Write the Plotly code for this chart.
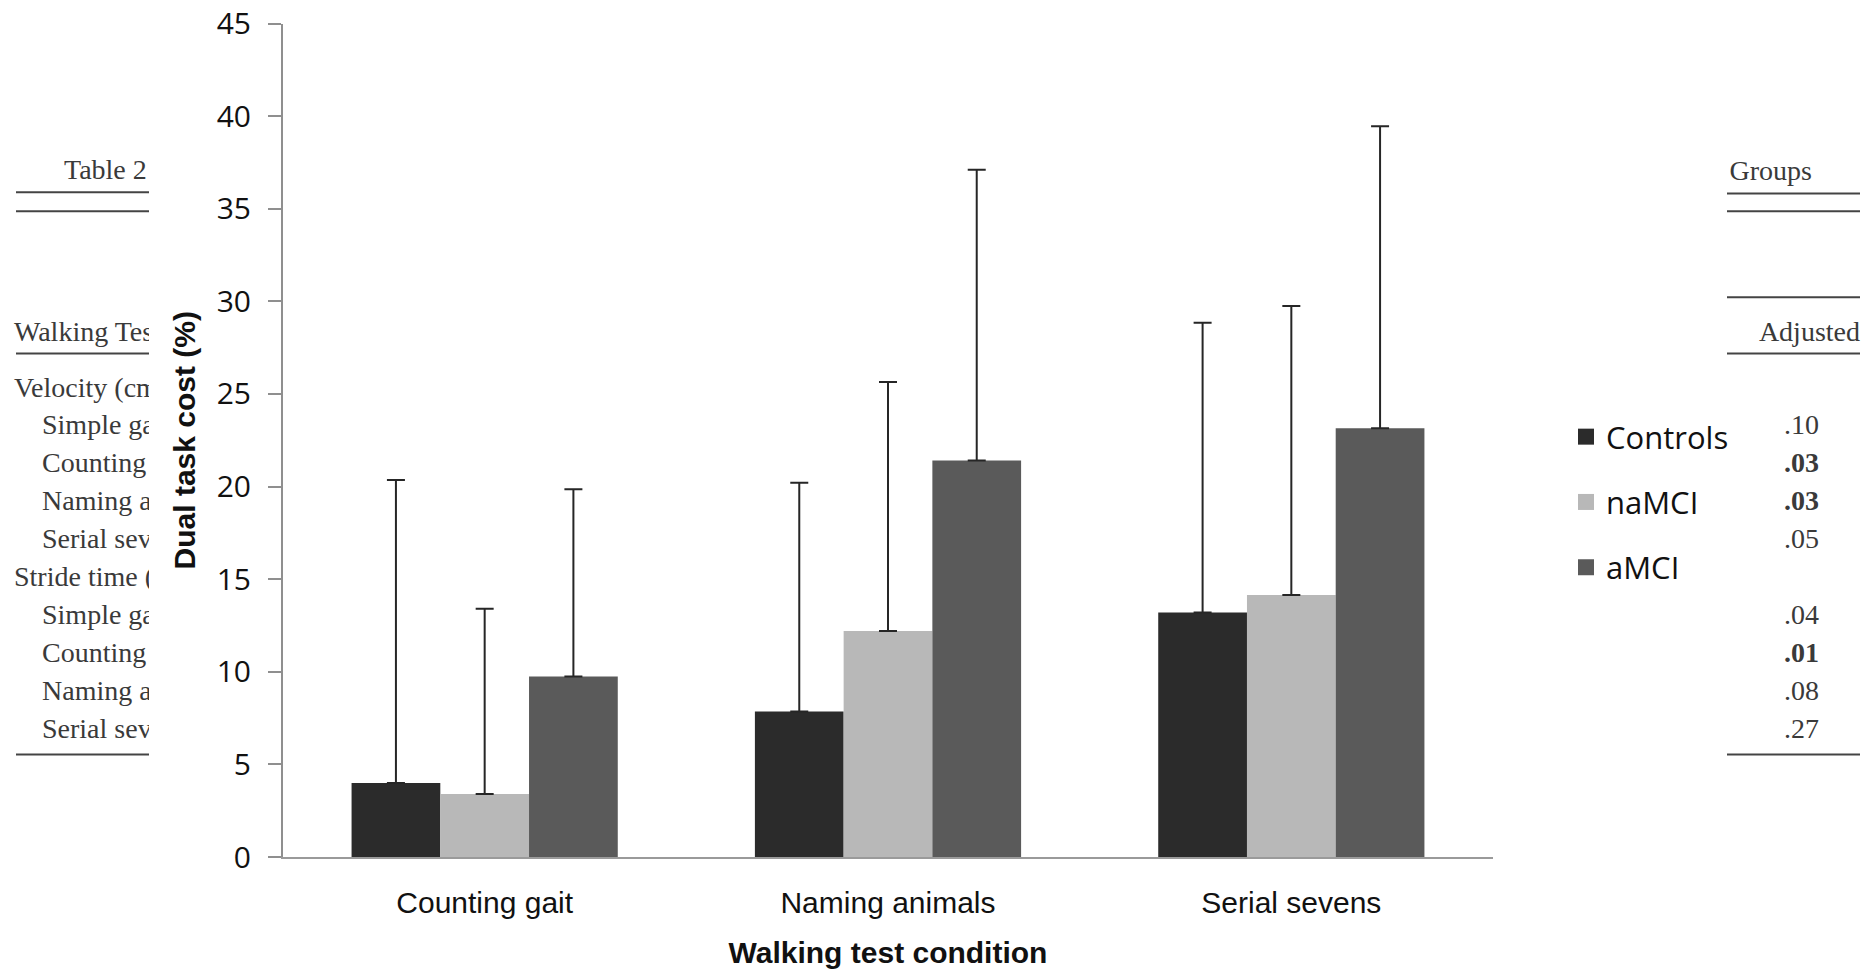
import plotly.graph_objects as go

W, H = 1872, 971

# ---- bar chart data: dual task cost (%) by walking condition ----
conditions = ["Counting gait", "Naming animals", "Serial sevens"]
groups = ["Controls", "naMCI", "aMCI"]
group_colors = ["#2b2b2b", "#b8b8b8", "#5a5a5a"]

controls_mean = [4.0, 7.85, 13.2]
namci_mean = [3.4, 12.2, 14.15]
amci_mean = [9.75, 21.4, 23.15]

controls_sd = [16.35, 12.35, 15.65]
namci_sd = [10.0, 13.45, 15.6]
amci_sd = [10.1, 15.7, 16.3]

y_ticks = [0, 5, 10, 15, 20, 25, 30, 35, 40, 45]

# ---- strips of the printed table that show at either side of the chart ----
table_title = "Table 2"
table_title_right = "Groups"
table_header_left = "Walking Tes"
table_header_right = "Adjusted"
table_rows = ["Velocity (cm", "Simple ga", "Counting", "Naming a", "Serial sev",
              "Stride time (", "Simple ga", "Counting", "Naming a", "Serial sev"]
row_indented = [False, True, True, True, True, False, True, True, True, True]
adjusted_p = ["", ".10", ".03", ".03", ".05", "", ".04", ".01", ".08", ".27"]
p_bold = [False, False, True, True, False, False, False, True, False, False]

means = [controls_mean, namci_mean, amci_mean]
sds = [controls_sd, namci_sd, amci_sd]

fig = go.Figure()

for name, color, m, s in zip(groups, group_colors, means, sds):
    fig.add_trace(go.Bar(
        x=conditions, y=m, name=name, showlegend=False,
        marker=dict(color=color, line=dict(width=0)),
        error_y=dict(type="data", symmetric=False, array=s,
                     arrayminus=[0] * len(s), color="#262626",
                     thickness=2, width=9),
        xaxis="x", yaxis="y",
    ))

# legend entries with larger square swatches
for name, color in zip(groups, group_colors):
    fig.add_trace(go.Scatter(
        x=[None], y=[None], mode="markers", name=name, legendgroup=name,
        marker=dict(symbol="square", size=20, color=color),
        xaxis="x", yaxis="y",
    ))

# ---- table layer (clipped at the panel edges) ----
serif = dict(family="Liberation Serif, Times New Roman, serif", size=28, color="#3a3a3a")
row0_y, row_step = 389.5, 37.9
row_y = [row0_y + i * row_step for i in range(len(table_rows))]

fig.add_trace(go.Scatter(
    x=[64], y=[171.5], mode="text",
    text=[table_title], textposition="middle right",
    textfont=serif, xaxis="x2", yaxis="y2", showlegend=False, hoverinfo="skip",
))
fig.add_trace(go.Scatter(
    x=[14], y=[333.5], mode="text",
    text=[table_header_left], textposition="middle right",
    textfont=serif, xaxis="x2", yaxis="y2", showlegend=False, hoverinfo="skip",
))
fig.add_trace(go.Scatter(
    x=[14 if not ind else 42 for ind in row_indented], y=row_y, mode="text",
    text=table_rows, textposition="middle right",
    textfont=serif, xaxis="x2", yaxis="y2", showlegend=False, hoverinfo="skip",
))
fig.add_trace(go.Scatter(
    x=[1812, 1860], y=[172.5, 333.5], mode="text",
    text=[table_title_right, table_header_right], textposition="middle left",
    textfont=serif, xaxis="x3", yaxis="y2", showlegend=False, hoverinfo="skip",
))
fig.add_trace(go.Scatter(
    x=[1819] * len(adjusted_p), y=row_y, mode="text",
    text=[f"<b>{p}</b>" if b else p for p, b in zip(adjusted_p, p_bold)],
    textposition="middle left",
    textfont=serif, xaxis="x3", yaxis="y2", showlegend=False, hoverinfo="skip",
))

rule = dict(color="#444444", width=2)
left_rules = [192.2, 211.3, 353.4, 754.6]
right_rules = [193.4, 211.3, 297.3, 353.4, 754.6]
shapes = []
for yy in left_rules:
    shapes.append(dict(type="line", xref="x2", yref="y2", x0=16, x1=160,
                       y0=yy, y1=yy, line=rule, layer="below"))
for yy in right_rules:
    shapes.append(dict(type="line", xref="x3", yref="y2", x0=1700, x1=1860,
                       y0=yy, y1=yy, line=rule, layer="below"))

fig.update_layout(
    width=W, height=H,
    margin=dict(l=0, r=0, t=0, b=0, autoexpand=False),
    paper_bgcolor="white", plot_bgcolor="white",
    barmode="group", bargap=0.34, bargroupgap=0,
    shapes=shapes,
    xaxis=dict(
        domain=[283 / W, 1493 / W], anchor="y", automargin=False,
        showline=True, linecolor="#9a9a9a", linewidth=2,
        ticks="", showgrid=False, zeroline=False,
        tickfont=dict(family="Liberation Sans, Arial, sans-serif", size=30, color="#111111"),
        ticklabelstandoff=18,
        title=dict(text="<b>Walking test condition</b>", standoff=24,
                   font=dict(family="Liberation Sans, Arial, sans-serif", size=30, color="#111111")),
    ),
    yaxis=dict(
        domain=[(H - 857) / H, (H - 23.5) / H], anchor="x", automargin=False,
        range=[0, 45], tickvals=y_ticks,
        showline=True, linecolor="#8f8f8f", linewidth=2,
        ticks="outside", ticklen=13, tickwidth=2, tickcolor="#8f8f8f",
        showgrid=False, zeroline=False,
        tickfont=dict(family="Open Sans, sans-serif", size=30, color="#111111"),
        ticklabelstandoff=11,
        title=dict(text="<b>Dual task cost (%)</b>", standoff=12,
                   font=dict(family="Liberation Sans, Arial, sans-serif", size=30, color="#111111")),
    ),
    xaxis2=dict(domain=[0, 149 / W], range=[0, 149], visible=False, anchor="y2", automargin=False),
    xaxis3=dict(domain=[1727 / W, 1], range=[1727, W], visible=False, anchor="y2", automargin=False),
    yaxis2=dict(domain=[0, 1], range=[H, 0], visible=False, anchor="x2", automargin=False),
    legend=dict(
        x=1566 / W, y=1 - 410 / H, xanchor="left", yanchor="top",
        font=dict(family="Open Sans, sans-serif", size=31, color="#111111"),
        traceorder="grouped", tracegroupgap=22,
        bgcolor="rgba(0,0,0,0)", borderwidth=0,
    ),
    showlegend=True,
)

fig.write_html("out.html")
